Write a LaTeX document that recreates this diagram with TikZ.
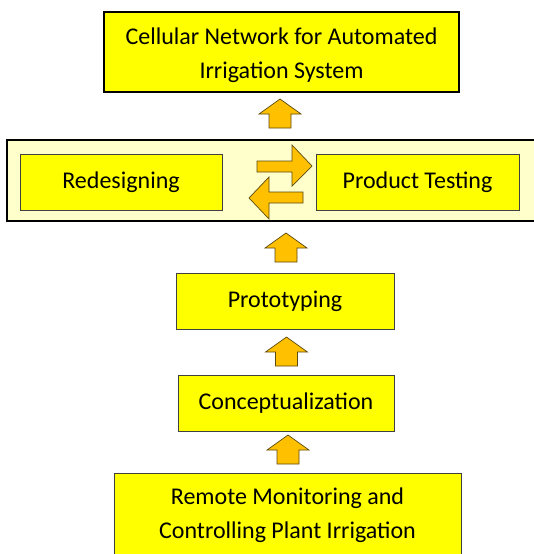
\documentclass[tikz,border=0pt]{standalone}
\usepackage{fontspec}
\setmainfont{Carlito}
\definecolor{boxyellow}{HTML}{FFFF00}
\definecolor{bandfill}{HTML}{FFFFCC}
\definecolor{arrfill}{HTML}{FFC000}
\definecolor{arredge}{HTML}{5A4A10}
\definecolor{boxedge}{HTML}{404040}
\tikzset{
  box/.style={draw=boxedge, line width=0.9pt, fill=boxyellow, inner sep=0pt, align=center,
    font=\fontsize{24}{33}\selectfont},
  mainbox/.style={box, draw=black, line width=1.8pt},
  boxtext/.style={inner sep=0pt, align=center, font=\fontsize{24}{34}\selectfont},
  blockarrow/.style={draw=arredge, line width=0.7pt, fill=arrfill, line join=miter},
}
\newcommand{\uparr}[2]{%
  \draw[blockarrow] (#1-11,#2+29) -- (#1-11,#2+15) -- (#1-21,#2+15) -- (#1,#2) --
    (#1+21,#2+15) -- (#1+11,#2+15) -- (#1+11,#2+29) -- cycle;}
\begin{document}
\begin{tikzpicture}[x=1pt,y=-1pt]
\useasboundingbox (0,0) rectangle (534,554);
\begin{scope}
\clip (0,0) rectangle (534,554);
% band
\draw[fill=bandfill, line width=1.6pt, draw=black] (7,140) rectangle (545,221);
% boxes
\node[mainbox, minimum width=355pt, minimum height=80pt] (top) at (281.5,52) {};
\node[boxtext] (toptext) at (281.5,55.5) {Cellular Network for Automated\\Irrigation System};
\node[box, minimum width=202pt, minimum height=56pt] (redesign) at (121,182) {Redesigning};
\node[box, minimum width=203pt, minimum height=56pt] (test) at (417.5,182) {Product Testing};
\node[box, minimum width=218pt, minimum height=56pt] (proto) at (285,301) {Prototyping};
\node[box, minimum width=216pt, minimum height=56pt] (concept) at (286,403) {Conceptualization};
\node[box, minimum width=347pt, minimum height=84pt] (remote) at (287.5,515) {};
\node[boxtext] (remotetext) at (287.5,515.5) {Remote Monitoring and\\Controlling Plant Irrigation};
\end{scope}
% up arrows
\uparr{280}{99}
\uparr{286}{233}
\uparr{286.5}{337}
\uparr{288}{435}
% right arrow
\draw[blockarrow] (257,161) -- (292,161) -- (292,145) -- (312,166) -- (292,186) -- (292,172) -- (257,172) -- cycle;
% left arrow
\draw[blockarrow] (303,192) -- (269,192) -- (269,177) -- (249,198) -- (269,219) -- (269,203) -- (303,203) -- cycle;
\end{tikzpicture}
\end{document}
